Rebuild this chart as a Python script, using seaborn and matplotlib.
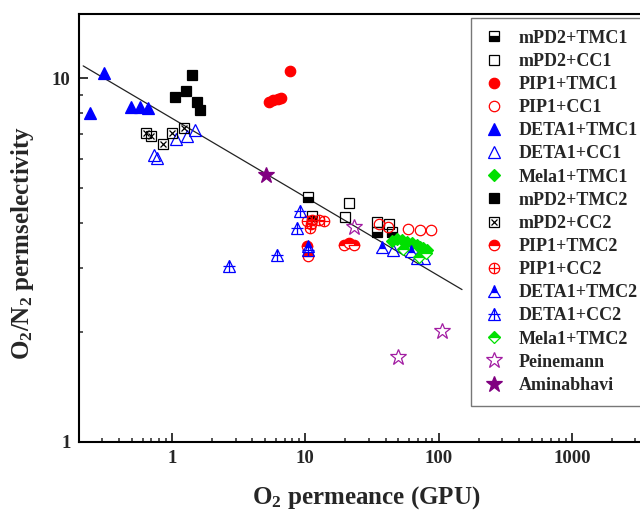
import matplotlib
matplotlib.use('Agg')
import matplotlib.pyplot as plt
from matplotlib import ticker
from matplotlib.lines import Line2D
from matplotlib.legend_handler import HandlerTuple
import seaborn as sns
import pandas as pd

# O2 permeance (GPU) / O2-N2 selectivity
mpd2_tmc1_x = [10.4, 11.2, 34.3, 44.9]
mpd2_tmc1_y = [4.71, 4.18, 3.78, 3.78]
mpd2_cc1_x = [21.3, 19.9, 34.3, 42.5]
mpd2_cc1_y = [4.52, 4.14, 4.02, 3.98]
pip1_tmc1_x = [7.67, 5.37, 5.75, 6.27, 6.57]
pip1_tmc1_y = [10.43, 8.59, 8.69, 8.78, 8.81]
pip1_cc1_x = [35.9, 42.0, 59.3, 72.5, 87.3]
pip1_cc1_y = [3.98, 3.90, 3.85, 3.82, 3.83]
deta1_tmc1_x = [0.24, 0.306, 0.493, 0.575, 0.655]
deta1_tmc1_y = [8.01, 10.33, 8.32, 8.32, 8.29]
deta1_cc1_x = [0.727, 0.768, 1.066, 1.29, 1.49, 45.7, 68.5, 77.7]
deta1_cc1_y = [6.13, 6.01, 6.79, 6.92, 7.19, 3.36, 3.19, 3.21]
mela1_tmc1_x = [44.5, 48.5, 52.9, 57.6, 62.9, 68.5, 72.5, 76.7, 81.4]
mela1_tmc1_y = [3.57, 3.60, 3.58, 3.54, 3.51, 3.47, 3.43, 3.40, 3.36]
mpd2_tmc2_x = [1.05, 1.28, 1.42, 1.54, 1.63]
mpd2_tmc2_y = [8.85, 9.22, 10.19, 8.59, 8.19]
mpd2_cc2_x = [0.635, 0.692, 0.856, 0.99, 1.22]
mpd2_cc2_y = [7.08, 6.92, 6.60, 7.08, 7.31]
pip1_tmc2_x = [10.24, 10.53, 19.5, 21.4, 23.2]
pip1_tmc2_y = [3.45, 3.24, 3.47, 3.52, 3.47]
pip1_cc2_x = [10.35, 11.17, 12.74, 13.8, 10.85, 10.98]
pip1_cc2_y = [4.04, 4.06, 4.08, 4.04, 3.86, 3.96]
deta1_tmc2_x = [10.4, 37.9, 61.8]
deta1_tmc2_y = [3.45, 3.43, 3.35]
deta1_cc2_x = [9.12, 8.62, 2.65, 6.17, 10.53]
deta1_cc2_y = [4.31, 3.86, 3.04, 3.27, 3.36]
mela1_tmc2_x = [53.8, 71.7, 80.4]
mela1_tmc2_y = [3.38, 3.22, 3.31]
peinemann_x = [23.2, 106.6, 49.4]
peinemann_y = [3.90, 2.01, 1.71]
aminabhavi_x = [5.05]
aminabhavi_y = [5.40]

# trade-off line end points
trend_x = [0.215, 150]
trend_y = [10.8, 2.62]

x_ticks = [1, 10, 100, 1000]
y_ticks = [1, 10]

RED, BLUE, GREEN, BLACK = '#FF0000', '#0000FF', '#00E000', '#000000'

# each entry: label, x, y, list of marker layers
series = [
    ('mPD2+TMC1', mpd2_tmc1_x, mpd2_tmc1_y,
     [dict(marker='s', ms=6.5, mfc=BLACK, mec=BLACK, fillstyle='bottom', mfcalt='white')]),
    ('mPD2+CC1', mpd2_cc1_x, mpd2_cc1_y,
     [dict(marker='s', ms=6.5, mfc='none', mec=BLACK)]),
    ('PIP1+TMC1', pip1_tmc1_x, pip1_tmc1_y,
     [dict(marker='o', ms=7.5, mfc=RED, mec=RED)]),
    ('PIP1+CC1', pip1_cc1_x, pip1_cc1_y,
     [dict(marker='o', ms=7.5, mfc='none', mec=RED)]),
    ('DETA1+TMC1', deta1_tmc1_x, deta1_tmc1_y,
     [dict(marker='^', ms=8, mfc=BLUE, mec=BLUE)]),
    ('DETA1+CC1', deta1_cc1_x, deta1_cc1_y,
     [dict(marker='^', ms=8, mfc='none', mec=BLUE)]),
    ('Mela1+TMC1', mela1_tmc1_x, mela1_tmc1_y,
     [dict(marker='D', ms=6, mfc=GREEN, mec=GREEN)]),
    ('mPD2+TMC2', mpd2_tmc2_x, mpd2_tmc2_y,
     [dict(marker='s', ms=6.5, mfc=BLACK, mec=BLACK)]),
    ('mPD2+CC2', mpd2_cc2_x, mpd2_cc2_y,
     [dict(marker='s', ms=6.5, mfc='none', mec=BLACK),
      dict(marker='x', ms=4.5, mfc='none', mec=BLACK)]),
    ('PIP1+TMC2', pip1_tmc2_x, pip1_tmc2_y,
     [dict(marker='o', ms=7.5, mfc=RED, mec=RED, fillstyle='top', mfcalt='white')]),
    ('PIP1+CC2', pip1_cc2_x, pip1_cc2_y,
     [dict(marker='o', ms=7.5, mfc='none', mec=RED),
      dict(marker='+', ms=7.5, mfc='none', mec=RED)]),
    ('DETA1+TMC2', deta1_tmc2_x, deta1_tmc2_y,
     [dict(marker='^', ms=8, mfc=BLUE, mec=BLUE, fillstyle='top', mfcalt='white')]),
    ('DETA1+CC2', deta1_cc2_x, deta1_cc2_y,
     [dict(marker='^', ms=8, mfc='none', mec=BLUE),
      dict(marker='+', ms=9, mfc='none', mec=BLUE)]),
    ('Mela1+TMC2', mela1_tmc2_x, mela1_tmc2_y,
     [dict(marker='D', ms=6, mfc=GREEN, mec=GREEN, fillstyle='top', mfcalt='white')]),
    ('Peinemann', peinemann_x, peinemann_y,
     [dict(marker='*', ms=12, mfc='none', mec='#A21CA2')]),
    ('Aminabhavi', aminabhavi_x, aminabhavi_y,
     [dict(marker='*', ms=12, mfc='#800080', mec='#800080')]),
]

sns.set_style('ticks')
plt.rcParams['font.family'] = ['Liberation Serif', 'DejaVu Serif']
plt.rcParams['font.weight'] = 'bold'
plt.rcParams['mathtext.fontset'] = 'custom'
plt.rcParams['mathtext.rm'] = 'Liberation Serif:bold'
plt.rcParams['mathtext.default'] = 'rm'

fig = plt.figure(figsize=(6.4, 5.12), dpi=100)
# axes run past the right edge like in the cropped original
ax = fig.add_axes([79 / 640, 70.3 / 512, 626 / 640, 427.7 / 512])
ax.set_xscale('log')
ax.set_yscale('log')


def layer_kw(layer):
    kw = dict(marker=layer['marker'], markersize=layer['ms'],
              markerfacecolor=layer['mfc'], markeredgecolor=layer['mec'],
              markeredgewidth=0.9, linestyle='')
    if 'fillstyle' in layer:
        kw['fillstyle'] = layer['fillstyle']
        kw['markerfacecoloralt'] = layer['mfcalt']
    return kw


trend = pd.DataFrame({'x': trend_x, 'y': trend_y})
sns.lineplot(data=trend, x='x', y='y', estimator=None, sort=False, ax=ax,
             color='#222222', linewidth=0.9, legend=False)

handles, labels = [], []
for label, xs, ys, layers in series:
    df = pd.DataFrame({'x': xs, 'y': ys})
    parts = []
    for layer in layers:
        kw = layer_kw(layer)
        sns.lineplot(data=df, x='x', y='y', estimator=None, sort=False, ax=ax,
                     legend=False, color=layer['mec'], **kw)
        parts.append(Line2D([], [], **kw))
    handles.append(tuple(parts) if len(parts) > 1 else parts[0])
    labels.append(label)

ax.set_xlim(0.2, 10000)
ax.set_ylim(1, 15)
fmt = ticker.FuncFormatter(lambda v, p: f'{v:g}')
ax.xaxis.set_major_locator(ticker.FixedLocator(x_ticks))
ax.yaxis.set_major_locator(ticker.FixedLocator(y_ticks))
ax.xaxis.set_major_formatter(fmt)
ax.yaxis.set_major_formatter(fmt)
ax.xaxis.set_minor_formatter(ticker.NullFormatter())
ax.yaxis.set_minor_formatter(ticker.NullFormatter())
ax.tick_params(which='major', direction='in', length=6.5, width=1.3,
               labelsize=13.5, pad=6, top=False, right=False)
ax.tick_params(which='minor', direction='in', length=3.2, width=1.1,
               top=False, right=False)
for sp in ax.spines.values():
    sp.set_linewidth(1.5)
    sp.set_color('black')

ax.set_xlabel(r'O$_2$ permeance (GPU)', fontsize=18, fontweight='bold')
ax.set_ylabel(r'O$_2$/N$_2$ permselectivity', fontsize=18, fontweight='bold')
ax.xaxis.set_label_coords(0.4585, -0.10)
ax.yaxis.set_label_coords(-0.069, 0.465)

leg = fig.legend(handles, labels, loc='upper left',
                 bbox_to_anchor=(471 / 640, 1 - 18 / 512),
                 bbox_transform=fig.transFigure,
                 handler_map={tuple: HandlerTuple(ndivide=1, pad=0)},
                 numpoints=1, fontsize=13, frameon=True, fancybox=False,
                 borderpad=0.65, labelspacing=0.34, handlelength=1.2,
                 handletextpad=0.8, borderaxespad=0)
leg.get_frame().set_edgecolor('#555555')
leg.get_frame().set_linewidth(1.0)
for t in leg.get_texts():
    t.set_fontweight('bold')

fig.savefig('out.png', dpi=100)
